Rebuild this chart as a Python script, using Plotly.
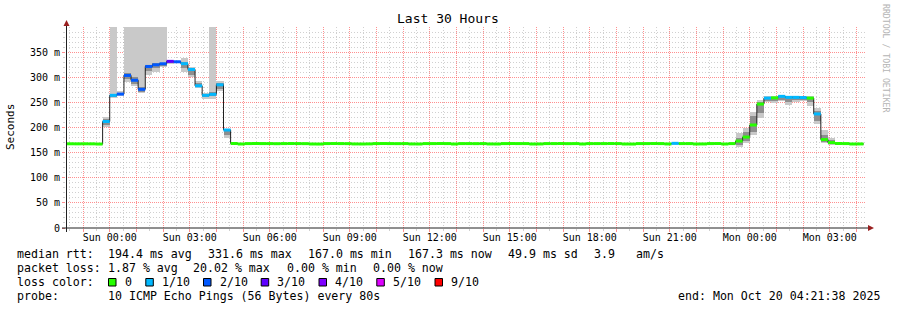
import pandas as pd
import plotly.graph_objects as go

# ---------------- data (16-minute consolidated steps) ----------------
FIRST_STEP = "2025-10-18 22:08:00"
STEP = "16min"
RANGE_START = "2025-10-18 22:21:38"
RANGE_END = "2025-10-20 04:21:38"

MEDIAN = (
    [167.6, 167.6, 167.5, 167.6, 167.5, 167.1]
    + [212.0]
    + [264.0, 266.5, 303.6, 294.0, 276.0, 321.5, 324.8, 326.8, 331.6, 330.8,
       327.0, 315.5, 283.0, 264.0, 266.0, 285.0, 195.0]
    + [168.2, 167.2, 168.0, 168.2, 168.0, 168.0, 167.8, 168.0, 168.1, 168.0,
       167.9, 167.2, 167.1, 168.0, 168.1, 168.0, 167.9, 167.3, 167.2, 167.4,
       168.0, 168.1, 168.0, 167.9, 168.0, 167.3, 167.2, 168.0, 168.0, 168.1,
       168.0, 167.2, 168.0, 168.0, 167.9, 168.0, 167.3, 167.2, 168.0, 168.1,
       168.0, 168.0, 167.2, 167.3, 168.0, 168.0, 168.1, 167.9, 168.0, 167.2,
       168.0, 168.0, 168.0, 168.1, 168.0, 167.2, 167.1, 168.0, 168.0, 168.1,
       168.0, 167.3, 168.5, 168.0, 168.0, 167.2, 167.3, 168.0, 168.1, 167.2,
       168.0]
    + [173.0, 181.0, 205.0, 246.6, 258.5, 259.0, 262.0, 260.0, 260.0, 259.6,
       258.5, 227.0, 176.0, 170.0]
    + [168.2, 168.0, 167.2, 167.3]
)

LOSS = (
    [0, 0, 0, 0, 0, 0]
    + [1]
    + [1, 2, 2, 2, 2, 2, 2, 2, 3, 2, 1, 1, 1, 1, 1, 1, 1]
    + [0] * 62 + [1] + [0] * 8
    + [0, 0, 0, 0, 1, 0, 1, 1, 1, 1, 0, 1, 0, 0]
    + [0, 0, 0, 0]
)

SMOKE_LO = (
    [166.5] * 6
    + [201]
    + [258, 262, 290, 282, 268, 305, 311, 321, 327, 328, 310, 300, 278, 256,
       257, 272, 180]
    + [166.5] * 71
    + [162, 169, 185, 219, 250, 248, 252, 245, 250, 252, 242, 207, 169, 166]
    + [166.5] * 4
)
SMOKE_HI = (
    [169.0] * 6
    + [220]
    + [400, 272, 400, 400, 400, 400, 400, 400, 334, 333, 339, 320, 292, 268,
       400, 292, 198]
    + [169.0] * 4 + [171.5] + [169.0] * 54 + [171.0] + [169.0] * 4 + [170.5]
    + [169.0] * 2 + [171.0] + [169.0] * 3
    + [190, 200, 230, 254, 262, 262, 264, 263, 263, 262, 262, 239, 195, 180]
    + [169.0] * 4
)
CORE_LO = (
    [None] * 6
    + [205]
    + [260, 264, 296, 287, 270, 312, 318, 323, 329, 329, 318, 305, 280, 260,
       262, 277, 186]
    + [None] * 71
    + [166, 173, 192, 228, 253, 252, 255, 250, 254, 255, 250, 213, 172, 167]
    + [None] * 4
)
CORE_HI = (
    [None] * 6
    + [216]
    + [267, 269, 309, 300, 281, 324, 328, 329, 333, 332, 330, 318, 289, 266,
       270, 289, 196]
    + [None] * 71
    + [180, 192, 222, 250, 260, 260, 263, 262, 262, 261, 260, 233, 186, 175]
    + [None] * 4
)

LOSS_COLORS = {0: "#26ff00", 1: "#00b8ff", 2: "#0059ff", 3: "#5e00ff",
               4: "#7e00ff", 5: "#dd00ff", 9: "#ff0000"}
LOSS_LABELS = ["0", "1/10", "2/10", "3/10", "4/10", "5/10", "9/10"]
LOSS_KEYS = [0, 1, 2, 3, 4, 5, 9]

Y_TICKS = [0, 50, 100, 150, 200, 250, 300, 350]
Y_LABELS = ["0", "50 m", "100 m", "150 m", "200 m", "250 m", "300 m", "350 m"]
X_LABEL_TIMES = ["2025-10-19 00:00", "2025-10-19 03:00", "2025-10-19 06:00",
                 "2025-10-19 09:00", "2025-10-19 12:00", "2025-10-19 15:00",
                 "2025-10-19 18:00", "2025-10-19 21:00", "2025-10-20 00:00",
                 "2025-10-20 03:00"]
X_LABELS = ["Sun 00:00", "Sun 03:00", "Sun 06:00", "Sun 09:00", "Sun 12:00",
            "Sun 15:00", "Sun 18:00", "Sun 21:00", "Mon 00:00", "Mon 03:00"]

RTT_PARTS = ["194.4 ms avg", "331.6 ms max", "167.0 ms min", "167.3 ms now",
             "49.9 ms sd", "3.9", "am/s"]
LOSS_PARTS = ["1.87 % avg", "20.02 % max", "0.00 % min", "0.00 % now"]
PROBE_TEXT = "10 ICMP Echo Pings (56 Bytes) every 80s"
END_TEXT = "end: Mon Oct 20 04:21:38 2025"
TITLE = "Last 30 Hours"
Y_TITLE = "Seconds"
WATERMARK = "RRDTOOL / TOBI OETIKER"

# ---------------- geometry ----------------
W, H = 897, 310
L, R, T, B = 66, 31, 27, 82
PW, PH = W - L - R, H - T - B
BOTTOM = H - B
MONO = "DejaVu Sans Mono"


def px(x):
    return (x - L) / PW


def py(y):
    return (BOTTOM - y) / PH


starts = pd.date_range(FIRST_STEP, periods=len(MEDIAN), freq=STEP)
step_td = pd.Timedelta(STEP)
ends = starts + step_td
centers = starts + step_td / 2
width_ms = step_td.total_seconds() * 1000

fig = go.Figure()

# smoke (outer)
fig.add_trace(go.Bar(
    x=centers, base=SMOKE_LO,
    y=[h - l for l, h in zip(SMOKE_LO, SMOKE_HI)],
    width=width_ms, marker=dict(color="#c9c9c9", line=dict(width=0)),
    hoverinfo="skip", showlegend=False))
# smoke (core)
fig.add_trace(go.Bar(
    x=centers, base=CORE_LO,
    y=[None if l is None else h - l for l, h in zip(CORE_LO, CORE_HI)],
    width=width_ms, marker=dict(color="#8e8e8e", line=dict(width=0)),
    hoverinfo="skip", showlegend=False))

# median line (dark)
fig.add_trace(go.Scatter(
    x=list(starts) + [ends[-1]], y=MEDIAN + [MEDIAN[-1]],
    mode="lines", line=dict(color="#202020", width=1, shape="hv"),
    hoverinfo="skip", showlegend=False))

# loss-coloured median bands
for key in LOSS_KEYS:
    xs, ys = [], []
    for s, e, m, lo in zip(starts, ends, MEDIAN, LOSS):
        if lo == key:
            xs += [s, e, None]
            ys += [m, m, None]
    if xs:
        fig.add_trace(go.Scatter(
            x=xs, y=ys, mode="lines",
            line=dict(color=LOSS_COLORS[key], width=3),
            hoverinfo="skip", showlegend=False))

# ticks
hour_ticks = pd.date_range("2025-10-18 23:00", "2025-10-20 04:00", freq="1h")
label_map = dict(zip(pd.to_datetime(X_LABEL_TIMES), X_LABELS))
hour_text = [label_map.get(t, "") for t in hour_ticks]
half_ticks = pd.date_range("2025-10-18 22:30", "2025-10-20 03:30", freq="1h")
y_minor = [v for v in range(10, 400, 10) if v % 50 != 0]

MAJ = "rgba(255,70,70,0.6)"
MIN = "rgba(150,150,150,0.45)"
MAJ_DASH = "1px,1px"
MIN_DASH = "1px,2px"

fig.update_layout(
    width=W, height=H, margin=dict(l=L, r=R, t=T, b=B, pad=0),
    paper_bgcolor="white", plot_bgcolor="white",
    barmode="overlay", bargap=0, showlegend=False,
    font=dict(family=MONO, color="black"),
    xaxis=dict(
        type="date", range=[RANGE_START, RANGE_END],
        tickmode="array", tickvals=hour_ticks, ticktext=hour_text,
        showgrid=True, gridcolor=MAJ, griddash=MAJ_DASH, gridwidth=1,
        ticks="outside", ticklen=3, tickcolor=MAJ, tickwidth=1,
        ticklabelstandoff=-3,
        tickfont=dict(family=MONO, size=10, color="black"),
        showline=False, zeroline=False,
        minor=dict(tickmode="array", tickvals=half_ticks, showgrid=True,
                   gridcolor=MIN, griddash=MIN_DASH, gridwidth=1,
                   ticks="outside", ticklen=2, tickcolor=MIN),
    ),
    yaxis=dict(
        range=[0, 400], tickmode="array", tickvals=Y_TICKS, ticktext=Y_LABELS,
        showgrid=True, gridcolor=MAJ, griddash=MAJ_DASH, gridwidth=1,
        ticks="outside", ticklen=3, tickcolor=MAJ, tickwidth=1,
        tickfont=dict(family=MONO, size=10, color="black"),
        showline=False, zeroline=False,
        minor=dict(tickmode="array", tickvals=y_minor, showgrid=True,
                   gridcolor=MIN, griddash=MIN_DASH, gridwidth=1,
                   ticks="outside", ticklen=2, tickcolor=MIN),
    ),
)

shapes = []
# axes lines and arrows
shapes.append(dict(type="line", xref="paper", yref="paper",
                   x0=px(62), x1=px(869), y0=py(228), y1=py(228),
                   line=dict(color="#202020", width=1)))
shapes.append(dict(type="line", xref="paper", yref="paper",
                   x0=px(66.5), x1=px(66.5), y0=py(232), y1=py(24),
                   line=dict(color="#202020", width=1)))
ARROW = "#9a2020"
shapes.append(dict(type="path", xref="paper", yref="paper",
                   path=f"M {px(868)} {py(225)} L {px(874)} {py(228)} L {px(868)} {py(231)} Z",
                   fillcolor=ARROW, line=dict(color=ARROW, width=0)))
shapes.append(dict(type="path", xref="paper", yref="paper",
                   path=f"M {px(63.5)} {py(26)} L {px(66.5)} {py(20)} L {px(69.5)} {py(26)} Z",
                   fillcolor=ARROW, line=dict(color=ARROW, width=0)))

annotations = []


def ann(text, x, y, size=11.6, xanchor="left", color="black", angle=0):
    annotations.append(dict(
        text=text.replace(" ", "\u00a0"), x=px(x), y=py(y),
        xref="paper", yref="paper", xanchor=xanchor, yanchor="middle",
        showarrow=False, borderpad=0, textangle=angle,
        font=dict(family=MONO, size=size, color=color)))


ann(TITLE, 447.5, 19, size=13, xanchor="center")
ann(Y_TITLE, 11, 127, size=11, xanchor="center", angle=-90)
ann(WATERMARK, 886, 59, size=8.2, xanchor="center", color="#b4b4b4", angle=90)

ann("median rtt:", 16, 254.3)
for txt, x in zip(RTT_PARTS, [107.3, 207.3, 306.7, 407.3, 507.3, 592.7, 635.0]):
    ann(txt, x, 254.3)
ann("packet loss:", 16, 268.3)
for txt, x in zip(LOSS_PARTS, [107.3, 192.0, 286.0, 372.0]):
    ann(txt, x, 268.3)
ann("loss color:", 16, 282.3)
ann("probe:", 16, 296)
ann(PROBE_TEXT, 107.3, 296)
ann(END_TEXT, 880.5, 296, xanchor="right")

SQ_X = [108.5, 145.8, 203.5, 261.2, 319.0, 376.8, 435.0]
for key, lab, sx in zip(LOSS_KEYS, LOSS_LABELS, SQ_X):
    shapes.append(dict(type="rect", xref="paper", yref="paper",
                       x0=px(sx), x1=px(sx + 7.5), y0=py(286), y1=py(278.5),
                       fillcolor=LOSS_COLORS[key],
                       line=dict(color="black", width=1)))
    ann(lab, sx + 15, 282.3)

fig.update_layout(shapes=shapes, annotations=annotations)
fig.write_html("out.html")
